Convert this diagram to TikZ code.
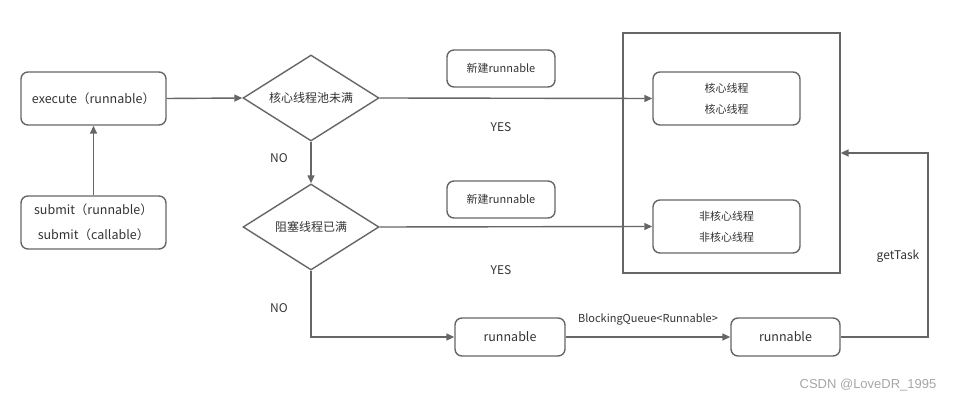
\documentclass[tikz,border=0pt]{standalone}
\usepackage{fontspec}
\setmainfont{Noto Sans CJK SC}
\newfontfamily\wmfont{Liberation Sans}
\usetikzlibrary{arrows.meta,shapes.geometric}
\definecolor{ln}{HTML}{666666}
\definecolor{tx}{HTML}{333333}
\tikzset{
  box/.style={draw=ln,line width=1.4pt,rounded corners=7pt,text=tx,font=\fontsize{12.5}{14}\selectfont,align=center,inner sep=0pt},
  smallbox/.style={box,font=\fontsize{11}{13}\selectfont},
  dia/.style={draw=ln,line width=1.4pt,diamond,aspect=1.62,minimum width=136pt,minimum height=86pt,inner sep=0pt,text=tx,font=\fontsize{12}{14}\selectfont},
  conn/.style={draw=ln,line width=1.4pt,-{Triangle[length=8pt,width=7pt]}},
  lbl/.style={text=tx,font=\fontsize{12}{14}\selectfont,inner sep=0pt},
}
\begin{document}
\begin{tikzpicture}[x=1pt,y=-1pt]
\useasboundingbox (0,0) rectangle (953,403);
% left boxes
\node[box,minimum width=145pt,minimum height=53pt] (exec) at (93.5,98.5) {execute（runnable）};
\node[box,minimum width=145pt,minimum height=53pt] (submit) at (93.5,222.5) {submit（runnable）\\[11pt]submit（callable）};
% diamonds
\node[dia] (d1) at (311,98) {核心线程池未满};
\node[dia] (d2) at (311,227) {阻塞线程已满};
% new runnable boxes
\node[smallbox,minimum width=108pt,minimum height=37pt] (new1) at (501,68.5) {新建runnable};
\node[smallbox,minimum width=108pt,minimum height=37pt] (new2) at (501,199.5) {新建runnable};
% big pool rectangle
\node[draw=ln,line width=1.3pt,minimum width=217pt,minimum height=240pt,inner sep=0pt] (pool) at (731.5,153) {};
\node[smallbox,minimum width=147pt,minimum height=53pt] (core) at (726.5,98.5) {核心线程\\[8pt]核心线程};
\node[smallbox,minimum width=147pt,minimum height=53pt] (noncore) at (726.5,226.5) {非核心线程\\[8pt]非核心线程};
% queue boxes
\node[box,minimum width=110pt,minimum height=38pt] (r1) at (510,337) {runnable};
\node[box,minimum width=109pt,minimum height=38pt] (r2) at (785.5,337) {runnable};
% connectors
\draw[conn] (submit.north) -- (exec.south);
\draw[conn] (exec.east) -- (d1.west);
\draw[conn] (d1.south) -- (d2.north);
\draw[conn] (d1.east) -- (core.west);
\draw[conn] (d2.east) -- (noncore.west);
\draw[conn] (d2.south) |- (r1.west);
\draw[conn] (r1.east) -- (r2.west) node[midway,above=11pt,text=tx,font=\fontsize{11}{12}\selectfont,inner sep=0pt] (bq) {BlockingQueue<Runnable>};
\coordinate (turn) at (928,337);
\draw[conn] (r2.east) -- (turn) |- (pool.east);
% labels
\node[lbl] (no1) at (279,158) {NO};
\node[lbl] (no2) at (279,308) {NO};
\node[lbl] (yes1) at (501,127) {YES};
\node[lbl] (yes2) at (501,270) {YES};
\node[lbl] (gt) at (898,256) {getTask};
\node[text=gray!70,font=\wmfont\fontsize{13}{15}\selectfont,inner sep=0pt] (wm) at (868,385) {CSDN @LoveDR\_1995};
\end{tikzpicture}
\end{document}
